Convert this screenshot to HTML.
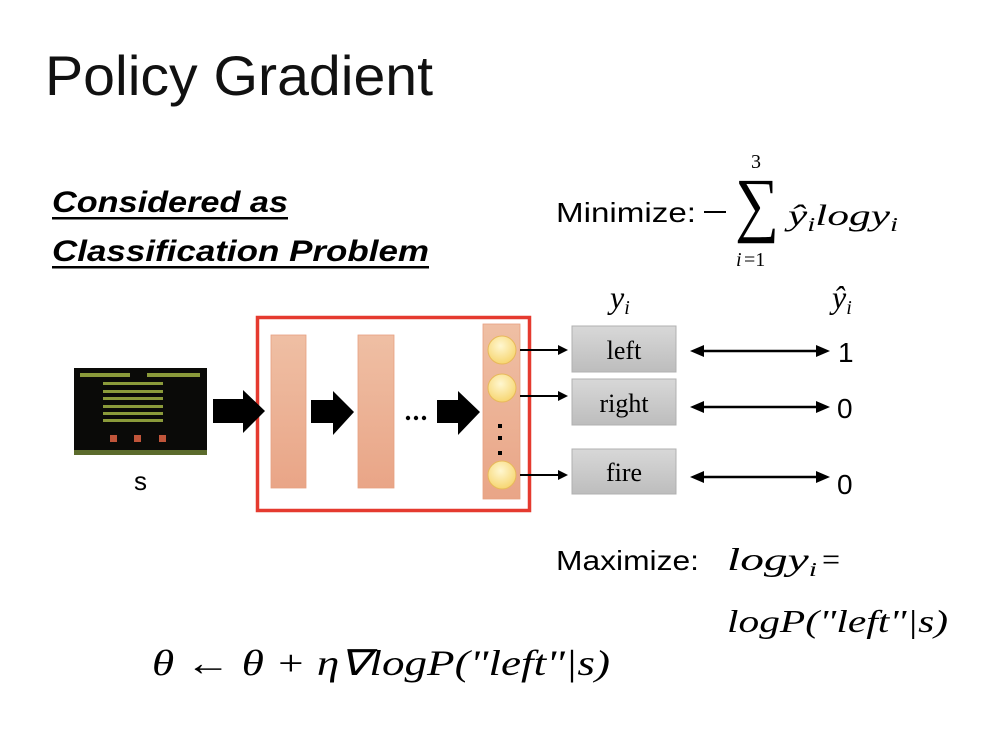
<!DOCTYPE html>
<html><head><meta charset="utf-8"><style>
html,body{margin:0;padding:0;background:#fff;width:1000px;height:735px;overflow:hidden}
svg{display:block}
.s{font-family:"Liberation Sans",sans-serif}
.m{font-family:"Liberation Serif",serif;font-style:italic}
</style></head><body>
<svg width="1000" height="735" viewBox="0 0 1000 735" xmlns="http://www.w3.org/2000/svg">
<defs>
<linearGradient id="g" x1="0" y1="0" x2="0" y2="1"><stop offset="0" stop-color="#d8d8d8"/><stop offset="1" stop-color="#bdbdbd"/></linearGradient>
<linearGradient id="o" x1="0" y1="0" x2="0" y2="1"><stop offset="0" stop-color="#efbfa4"/><stop offset="1" stop-color="#e9a587"/></linearGradient>
<radialGradient id="c" cx="0.45" cy="0.35" r="0.7"><stop offset="0" stop-color="#fff7d0"/><stop offset="1" stop-color="#f6d36a"/></radialGradient>
</defs>
<text x="45" y="95" class="s" font-size="56" fill="#111" textLength="388" lengthAdjust="spacingAndGlyphs">Policy Gradient</text>
<text x="52" y="212" class="s" font-size="30" font-weight="bold" font-style="italic" textLength="236" lengthAdjust="spacingAndGlyphs">Considered as</text>
<rect x="52" y="217" width="236" height="2.5" fill="#000"/>
<text x="52" y="261" class="s" font-size="30" font-weight="bold" font-style="italic" textLength="377" lengthAdjust="spacingAndGlyphs">Classification Problem</text>
<rect x="52" y="266" width="377" height="2.5" fill="#000"/>

<text x="556" y="222" class="s" font-size="28" textLength="140" lengthAdjust="spacingAndGlyphs">Minimize:</text>
<rect x="704" y="211" width="22" height="2" fill="#000"/>
<text x="735" y="228" font-family="Liberation Serif,serif" font-size="72" textLength="44" lengthAdjust="spacingAndGlyphs">∑</text>
<text x="751" y="168" font-family="Liberation Serif,serif" font-size="20">3</text>
<text x="736" y="266" class="m" font-size="20">i</text><text x="744" y="266" font-family="Liberation Serif,serif" font-size="20">=1</text>
<text x="788" y="225" class="m" font-size="30" textLength="110" lengthAdjust="spacingAndGlyphs">ŷ<tspan font-size="20" dy="6">i</tspan><tspan dy="-6">logy</tspan><tspan font-size="20" dy="6">i</tspan></text>

<!-- game -->
<rect x="74" y="368" width="133" height="87" fill="#0a0a08"/>
<rect x="74" y="450" width="133" height="5" fill="#5b6b2c"/>
<g fill="#8a9a3a">
<rect x="80" y="373" width="50" height="4"/><rect x="147" y="373" width="53" height="4"/>
<rect x="103" y="382" width="60" height="3"/><rect x="103" y="390" width="60" height="3"/><rect x="103" y="397" width="60" height="3"/><rect x="103" y="405" width="60" height="3"/><rect x="103" y="412" width="60" height="3"/><rect x="103" y="419" width="60" height="3"/>
</g>
<g fill="#c0553a"><rect x="110" y="435" width="7" height="7"/><rect x="134" y="435" width="7" height="7"/><rect x="159" y="435" width="7" height="7"/></g>
<text x="134" y="490" class="s" font-size="26">s</text>

<!-- red box -->
<rect x="257.5" y="317.5" width="272" height="193" fill="none" stroke="#e53a2f" stroke-width="3.5"/>
<rect x="271" y="335" width="35" height="153" fill="url(#o)" stroke="#e6a080" stroke-width="0.8"/>
<rect x="358" y="335" width="36" height="153" fill="url(#o)" stroke="#e6a080" stroke-width="0.8"/>
<rect x="483" y="324" width="37" height="175" fill="url(#o)" stroke="#e6a080" stroke-width="0.8"/>
<g fill="url(#c)" stroke="#e8b85a" stroke-width="1"><circle cx="502" cy="350" r="14"/><circle cx="502" cy="388" r="14"/><circle cx="502" cy="475" r="14"/></g>
<g fill="#000"><rect x="498" y="424" width="4" height="4"/><rect x="498" y="436" width="4" height="4"/><rect x="498" y="451" width="4" height="4"/></g>
<!-- big arrows -->
<polygon points="213,399 243,399 243,390 265,411 243,433 243,423 213,423" fill="#000"/>
<polygon points="311,400 333,400 333,391 354,412 333,435 333,423 311,423" fill="#000"/>
<polygon points="437,400 458,400 458,391 480,412 458,435 458,423 437,423" fill="#000"/>
<g fill="#000"><circle cx="408" cy="418" r="2.2"/><circle cx="416" cy="418" r="2.2"/><circle cx="424" cy="418" r="2.2"/></g>
<!-- small arrows -->
<g stroke="#000" stroke-width="2"><line x1="520" y1="350" x2="560" y2="350"/><line x1="520" y1="396" x2="560" y2="396"/><line x1="520" y1="475" x2="560" y2="475"/></g>
<g fill="#000"><polygon points="558,345 568,350 558,355"/><polygon points="558,391 568,396 558,401"/><polygon points="558,470 568,475 558,480"/></g>
<!-- boxes -->
<g fill="url(#g)" stroke="#b0b0b0" stroke-width="1"><rect x="572" y="326" width="104" height="46"/><rect x="572" y="379" width="104" height="46"/><rect x="572" y="449" width="104" height="45"/></g>
<g font-family="Liberation Serif,serif" font-size="26" text-anchor="middle"><text x="624" y="359">left</text><text x="624" y="412">right</text><text x="624" y="481">fire</text></g>
<text x="610" y="308" class="m" font-size="32">y<tspan font-size="20" dy="6">i</tspan></text>
<text x="832" y="308" class="m" font-size="32">ŷ<tspan font-size="20" dy="6">i</tspan></text>
<!-- double arrows -->
<g stroke="#000" stroke-width="2.5"><line x1="700" y1="351" x2="820" y2="351"/><line x1="700" y1="407" x2="820" y2="407"/><line x1="700" y1="477" x2="820" y2="477"/></g>
<g fill="#000">
<polygon points="690,351 704,345 704,357"/><polygon points="830,351 816,345 816,357"/>
<polygon points="690,407 704,401 704,413"/><polygon points="830,407 816,401 816,413"/>
<polygon points="690,477 704,471 704,483"/><polygon points="830,477 816,471 816,483"/>
</g>
<g class="s" font-size="28"><text x="838" y="362">1</text><text x="837" y="418">0</text><text x="837" y="494">0</text></g>

<text x="556" y="570" class="s" font-size="28" textLength="143" lengthAdjust="spacingAndGlyphs">Maximize:</text>
<text x="727" y="570" class="m" font-size="32" textLength="90" lengthAdjust="spacingAndGlyphs">logy<tspan font-size="20" dy="6">i</tspan></text>
<text x="822" y="570" font-family="Liberation Serif,serif" font-size="32">=</text>
<text x="727" y="632" class="m" font-size="32" textLength="221" lengthAdjust="spacingAndGlyphs">logP("left"|s)</text>
<text x="152" y="675" class="m" font-size="36" textLength="458" lengthAdjust="spacingAndGlyphs">θ ← θ + η∇logP("left"|s)</text>
</svg>
</body></html>
